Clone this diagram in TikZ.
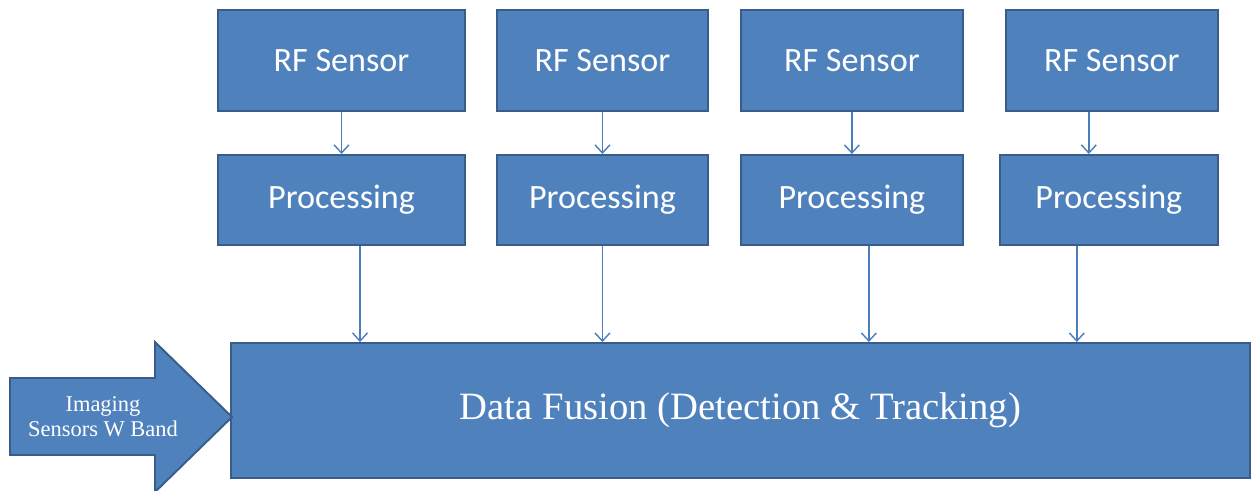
\documentclass[tikz,border=0pt]{standalone}
\usepackage{fontspec}
\setmainfont{Liberation Serif}
\newfontfamily\boxfont{Carlito}
\usetikzlibrary{arrows.meta,positioning}
\definecolor{boxfill}{HTML}{4F81BD}
\definecolor{boxline}{HTML}{385D8A}
\definecolor{linkline}{HTML}{4A7EBB}
\begin{document}
\begin{tikzpicture}[
  shape fill/.style={draw=boxline, fill=boxfill, line width=1.1pt},
  box/.style={shape fill, text=white, align=center, inner sep=0pt, font=\boxfont\fontsize{19.4}{23}\selectfont},
  sensor/.style={box, minimum height=2.02cm},
  proc/.style={box, minimum height=1.80cm},
  link/.style={draw=linkline, line width=0.8pt, -{Straight Barb[length=4.6pt,width=8.5pt]}}
]
\useasboundingbox (0,0) rectangle (25.04,-9.8);
\node[sensor, minimum width=4.94cm] (rf1) at (6.83,-1.21) {RF Sensor};
\node[sensor, minimum width=4.22cm, right=0.60cm of rf1] (rf2) {RF Sensor};
\node[sensor, minimum width=4.44cm, right=0.62cm of rf2] (rf3) {RF Sensor};
\node[sensor, minimum width=4.24cm, right=0.82cm of rf3] (rf4) {RF Sensor};
\node[proc, minimum width=4.94cm, below=0.84cm of rf1] (proc1) {Processing};
\node[proc, minimum width=4.22cm, below=0.84cm of rf2] (proc2) {Processing};
\node[proc, minimum width=4.44cm, below=0.84cm of rf3] (proc3) {Processing};
\node[proc, minimum width=4.36cm, below=0.84cm of rf4, xshift=-0.06cm] (proc4) {Processing};
\node[box, minimum width=20.38cm, minimum height=2.70cm, font=\fontsize{22}{26}\selectfont] (fusion) at (14.81,-8.21) {Data Fusion (Detection \& Tracking)};
\draw[shape fill] (0.2,-7.56) -- (3.10,-7.56) -- (3.10,-6.84) -- (4.64,-8.34) -- (3.10,-9.84) -- (3.10,-9.10) -- (0.2,-9.10) -- cycle;
\node[text=white, align=center, font=\fontsize{12.8}{14.2}\selectfont] (imaging) at (2.06,-8.34) {Imaging\\Sensors W Band};

\draw[link] (rf1) -- (proc1);
\draw[link] (rf2) -- (proc2);
\draw[link] (rf3) -- (proc3);
\draw[link] ([xshift=-0.46cm]rf4.south) -- ([xshift=-0.46cm]rf4.south |- proc4.north);
\draw[link] ([xshift=0.37cm]proc1.south) -- ([xshift=0.37cm]proc1.south |- fusion.north);
\draw[link] (proc2) -- (proc2 |- fusion.north);
\draw[link] ([xshift=0.34cm]proc3.south) -- ([xshift=0.34cm]proc3.south |- fusion.north);
\draw[link] ([xshift=-0.64cm]proc4.south) -- ([xshift=-0.64cm]proc4.south |- fusion.north);
\end{tikzpicture}
\end{document}
